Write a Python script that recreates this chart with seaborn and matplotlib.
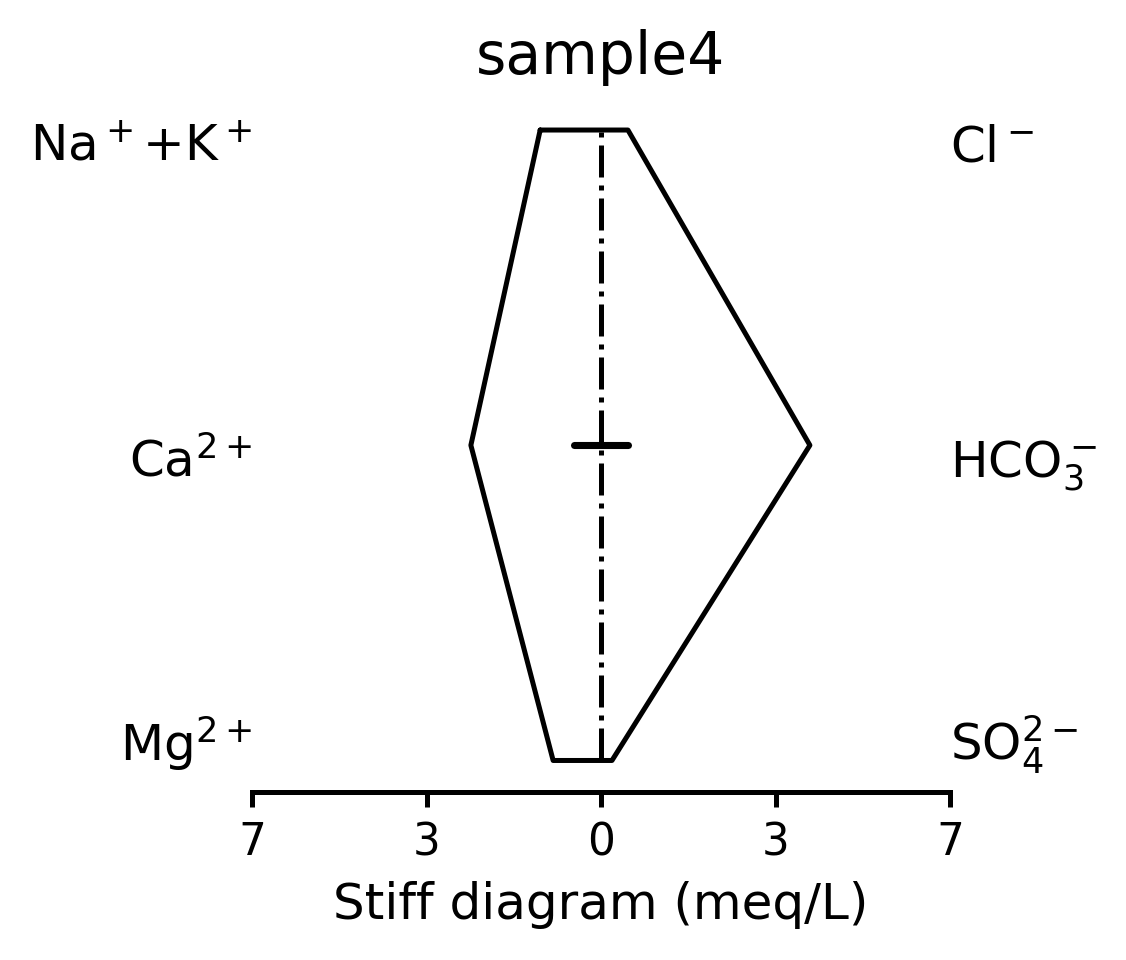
import numpy as np
import pandas as pd
import matplotlib
matplotlib.use("Agg")
import matplotlib.pyplot as plt
import seaborn as sns

# Data (meq/L)
cation_labels = ["Na$^+$+K$^+$", "Ca$^{2+}$", "Mg$^{2+}$"]
anion_labels = ["Cl$^-$", "HCO$_3^-$", "SO$_4^{2-}$"]
cation_values = [1.22, 2.61, 0.96]
anion_values = [0.54, 4.19, 0.22]
row_levels = [3, 2, 1]
xlim_max = 7
tick_values = [-7, -3.5, 0, 3.5, 7]
tick_labels = ["7", "3", "0", "3", "7"]
title = "sample4"

sns.set_style("white")
plt.rcParams["font.family"] = ["DejaVu Sans"]
plt.rcParams["text.color"] = "black"
plt.rcParams["axes.labelcolor"] = "black"
plt.rcParams["xtick.color"] = "black"

fig = plt.figure(figsize=(1126 / 300, 960 / 300), dpi=300)
ax = fig.add_axes([252 / 1126, 1 - 792 / 960, (950 - 252) / 1126, (792 - 98.5) / 960])

# polygon path: cations on the left (negative), anions on the right, closed
xs = [-v for v in cation_values] + anion_values[::-1] + [-cation_values[0]]
ys = row_levels + row_levels[::-1] + [row_levels[0]]
poly = pd.DataFrame({"x": xs, "y": ys})
sns.lineplot(data=poly, x="x", y="y", sort=False, estimator=None,
             color="k", lw=1.2, ax=ax)

# central dash-dot axis
center = pd.DataFrame({"x": [0, 0], "y": [min(row_levels), max(row_levels)]})
sns.lineplot(data=center, x="x", y="y", sort=False, estimator=None,
             color="k", lw=1.2, linestyle="-.", ax=ax)
# middle marker
mid = pd.DataFrame({"x": [-0.55, 0.55], "y": [row_levels[1], row_levels[1]]})
sns.lineplot(data=mid, x="x", y="y", sort=False, estimator=None,
             color="k", lw=1.7, ax=ax)

ax.set_xlim(-xlim_max, xlim_max)
ax.set_ylim(0.9, 3.1)
label_y = [row_levels[0] - 0.1, row_levels[1] - 0.1, row_levels[2]]
for lab, y in zip(cation_labels, label_y):
    ax.text(-xlim_max, y, lab, ha="right", va="baseline", fontsize=12, color="black")
for lab, y in zip(anion_labels, label_y):
    ax.text(xlim_max, y, lab, ha="left", va="baseline", fontsize=12, color="black")

ax.set_xticks(tick_values)
ax.set_xticklabels(tick_labels, fontsize=10.5, color="black")
ax.set_yticks([])
ax.set_ylabel("")
ax.set_xlabel("Stiff diagram (meq/L)", fontsize=12, color="black")
ax.set_title(title, fontsize=14, color="black")
ax.tick_params(axis="x", bottom=True, length=3.5, width=1.2, color="k")
for s in ["left", "top", "right"]:
    ax.spines[s].set_visible(False)
ax.spines["bottom"].set_color("k")
ax.spines["bottom"].set_linewidth(1.2)

fig.savefig("out.png", dpi=300)
